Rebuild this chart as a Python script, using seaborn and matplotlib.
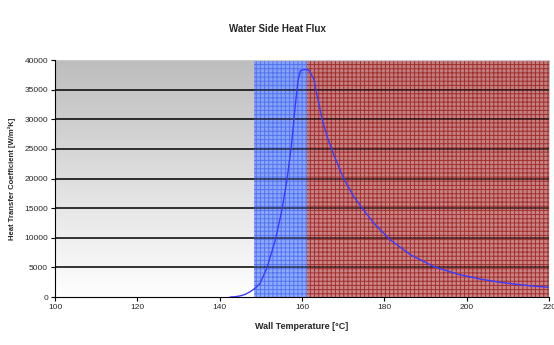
import numpy as np
import pandas as pd
import matplotlib
matplotlib.use("Agg")
import matplotlib.pyplot as plt
from matplotlib.colors import LinearSegmentedColormap
import seaborn as sns

# Data
wall_temp = [142.5, 143.8, 145.0, 146.2, 147.4, 148.6, 149.8, 151.4, 153.5, 155.1,
             156.3, 157.4, 158.4, 159.0, 159.6, 160.5, 161.6, 162.8, 163.7, 164.9,
             166.1, 167.7, 170.1, 172.6, 174.6, 177.5, 181.5, 186.4, 192.1, 197.8,
             203.5, 208.0, 212.0, 216.0, 220.0]
htc = [0, 60, 200, 450, 900, 1500, 2300, 4800, 9600, 14700,
       19700, 25500, 32700, 36500, 38200, 38400, 38300, 36900, 33800, 29900,
       27000, 24000, 20000, 16900, 15000, 12400, 9600, 7100, 5100, 3850,
       3000, 2500, 2150, 1850, 1650]
x_ticks = [100, 120, 140, 160, 180, 200, 220]
y_ticks = [0, 5000, 10000, 15000, 20000, 25000, 30000, 35000, 40000]
nucleate_range = [148.4, 161.2]
film_range = [161.2, 220]

sns.set_style("white")
plt.rcParams['font.family'] = ['Liberation Sans', 'DejaVu Sans']
plt.rcParams['hatch.linewidth'] = 0.7

df = pd.DataFrame({"Wall Temperature": wall_temp, "HTC": htc})

fig = plt.figure(figsize=(5.54, 3.45), dpi=100)
ax = fig.add_axes([0.0993, 0.139, 0.892, 0.687])

ax.set_xlim(100, 220)
ax.set_ylim(0, 40000)

# gray gradient background
grad = np.linspace(0, 1, 256).reshape(-1, 1)
cmap = LinearSegmentedColormap.from_list("g", ["#ffffff", "#bdbdbd"])
ax.imshow(grad, extent=[100, 220, 0, 40000], origin="lower", aspect="auto",
          cmap=cmap, zorder=0)

ax.axvspan(nucleate_range[0], nucleate_range[1], facecolor="#7d9dff",
           edgecolor="#4a6cf0", hatch="++++", linewidth=0, alpha=0.85, zorder=2)
ax.axvspan(film_range[0], film_range[1], facecolor="#c47676",
           edgecolor="#9e2424", hatch="++++", linewidth=0, alpha=0.88, zorder=2)

grid_y = y_ticks[1:-1]
ax.hlines(grid_y, 100, nucleate_range[0], color="black", linewidth=1.1, zorder=2.5)
ax.hlines(grid_y, nucleate_range[0], 220, color="black", linewidth=1.1,
          alpha=0.7, zorder=2.5)

sns.lineplot(data=df, x="Wall Temperature", y="HTC", ax=ax, color="#3a3aff",
             linewidth=1.0, zorder=3)

ax.set_xticks(x_ticks)
ax.set_yticks(y_ticks)
ax.tick_params(axis="both", labelsize=6, length=3, width=0.8, direction="out",
               color="black", pad=2)
ax.tick_params(axis="x", bottom=True)
ax.tick_params(axis="y", left=True)

for s in ["top", "right"]:
    ax.spines[s].set_visible(False)
ax.spines["left"].set_color("black")
ax.spines["bottom"].set_color("black")
ax.spines["left"].set_linewidth(0.8)
ax.spines["bottom"].set_linewidth(0.8)
ax.axhline(40000, color="#cccccc", linewidth=0.8, zorder=2, clip_on=False)

ax.set_xlabel("Wall Temperature [°C]", fontsize=6.5, fontweight="bold", labelpad=8)
ax.set_ylabel("Heat Transfer Coefficient [W/m²K]", fontsize=5.5, fontweight="bold", labelpad=6)
fig.text(0.5, 0.915, "Water Side Heat Flux", ha="center", va="center",
         fontsize=7, fontweight="bold")

fig.savefig("out.png", dpi=100)
